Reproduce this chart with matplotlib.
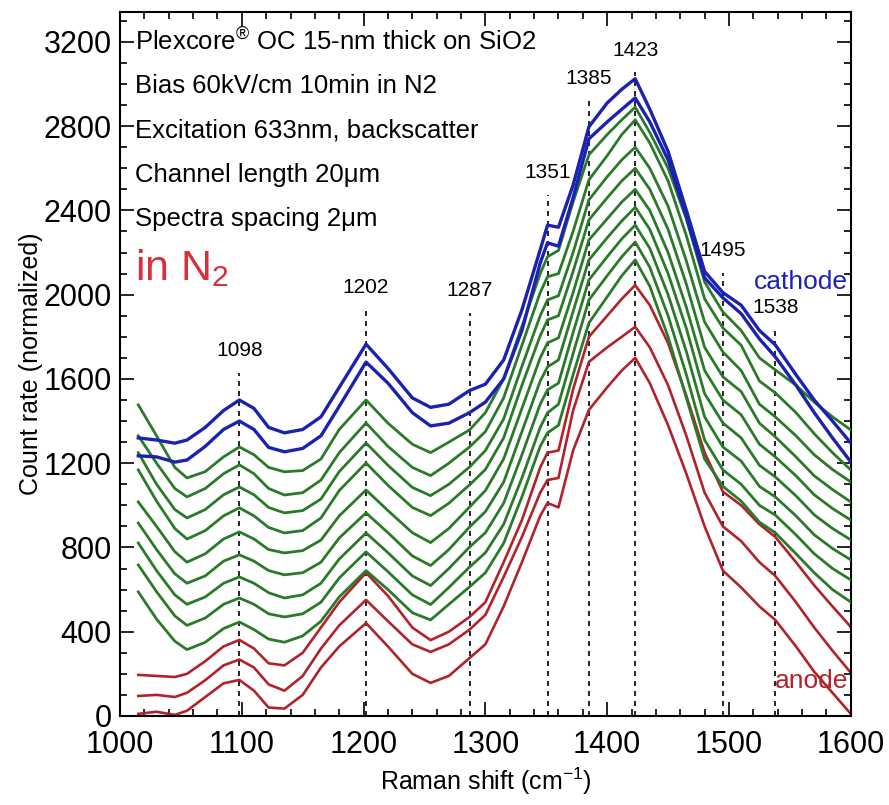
import numpy as np
import matplotlib.pyplot as plt
from matplotlib.ticker import MultipleLocator

plt.rcParams['font.family'] = ['Liberation Sans', 'DejaVu Sans']
plt.rcParams['mathtext.fontset'] = 'custom'
plt.rcParams['mathtext.rm'] = 'Liberation Sans'
plt.rcParams['mathtext.it'] = 'Liberation Sans:italic'

# Raman shift sample points (cm-1)
shift = [1015, 1030, 1045, 1055, 1070, 1085, 1098, 1110, 1122, 1135, 1150, 1165, 1180, 1202,
         1220, 1240, 1255, 1270, 1287, 1300, 1315, 1330, 1345, 1351, 1360, 1372, 1385, 1400,
         1412, 1423, 1435, 1450, 1465, 1480, 1495, 1510, 1525, 1538, 1555, 1570, 1585, 1600]

# cathode side (blue)
b1 = [1320, 1310, 1295, 1310, 1370, 1450, 1500, 1460, 1370, 1344, 1360, 1420, 1560, 1765,
      1650, 1510, 1465, 1480, 1545, 1575, 1690, 1928, 2213, 2330, 2320, 2520, 2797, 2910,
      2975, 3025, 2880, 2680, 2400, 2110, 2010, 1950, 1830, 1762, 1620, 1500, 1400, 1296]
b2 = [1235, 1230, 1205, 1215, 1280, 1360, 1400, 1360, 1275, 1254, 1270, 1330, 1470, 1680,
      1580, 1440, 1377, 1390, 1440, 1490, 1600, 1830, 2150, 2246, 2230, 2460, 2740, 2820,
      2880, 2934, 2820, 2640, 2370, 2080, 1985, 1910, 1790, 1705, 1570, 1440, 1320, 1206]

# middle of channel (green)
g1 = [1477, 1330, 1180, 1130, 1160, 1230, 1277, 1240, 1180, 1159, 1165, 1220, 1360, 1500,
      1390, 1290, 1250, 1300, 1358, 1440, 1600, 1850, 2100, 2180, 2210, 2440, 2664, 2760,
      2830, 2890, 2770, 2600, 2360, 2060, 1918, 1830, 1700, 1643, 1570, 1490, 1420, 1358]
g2 = [1330, 1200, 1080, 1040, 1080, 1150, 1192, 1150, 1080, 1049, 1060, 1120, 1250, 1391,
      1280, 1180, 1141, 1200, 1277, 1350, 1510, 1760, 2010, 2085, 2100, 2300, 2545, 2660,
      2760, 2830, 2720, 2540, 2280, 1980, 1842, 1760, 1590, 1534, 1440, 1340, 1250, 1168]
g3 = [1250, 1100, 980, 940, 980, 1050, 1087, 1050, 990, 964, 975, 1030, 1160, 1296,
      1190, 1085, 1046, 1100, 1182, 1260, 1410, 1660, 1900, 1975, 1995, 2200, 2450, 2560,
      2640, 2700, 2600, 2420, 2160, 1870, 1728, 1640, 1480, 1420, 1330, 1240, 1170, 1111]
g4 = [1168, 1020, 890, 840, 880, 950, 988, 950, 895, 869, 880, 940, 1070, 1201,
      1095, 990, 951, 1010, 1097, 1170, 1320, 1570, 1805, 1880, 1900, 2110, 2355, 2460,
      2540, 2600, 2500, 2310, 2050, 1750, 1610, 1540, 1390, 1325, 1230, 1140, 1075, 1016]
g5 = [1016, 900, 780, 730, 770, 840, 874, 840, 790, 774, 785, 835, 950, 1073,
      975, 870, 823, 890, 992, 1070, 1220, 1460, 1700, 1771, 1795, 2010, 2260, 2360,
      2440, 2500, 2400, 2200, 1940, 1640, 1500, 1430, 1290, 1230, 1140, 1050, 985, 930]
g6 = [916, 790, 675, 630, 665, 735, 765, 735, 690, 670, 680, 730, 845, 964,
      870, 760, 714, 790, 897, 970, 1110, 1350, 1590, 1657, 1690, 1920, 2165, 2270,
      2350, 2415, 2310, 2100, 1840, 1530, 1391, 1320, 1190, 1135, 1045, 955, 890, 836]
g7 = [821, 690, 575, 530, 565, 630, 660, 630, 585, 560, 575, 630, 745, 869,
      775, 665, 619, 700, 802, 870, 1010, 1240, 1480, 1548, 1580, 1820, 2070, 2180,
      2265, 2330, 2220, 2000, 1730, 1420, 1277, 1210, 1090, 1040, 950, 860, 795, 741]
g8 = [717, 590, 475, 430, 465, 530, 560, 530, 485, 470, 485, 540, 655, 779,
      685, 575, 529, 610, 707, 775, 910, 1130, 1370, 1439, 1480, 1720, 1975, 2090,
      2180, 2250, 2130, 1900, 1620, 1310, 1168, 1100, 1000, 954, 860, 770, 700, 646]
g9 = [589, 460, 355, 315, 350, 415, 446, 410, 365, 350, 380, 450, 565, 690,
      600, 490, 456, 530, 613, 680, 820, 1040, 1280, 1344, 1380, 1620, 1866, 1990,
      2090, 2165, 2040, 1800, 1510, 1220, 1090, 1020, 920, 870, 770, 680, 600, 541]

# anode side (red)
r1 = [195, 190, 185, 200, 260, 330, 361, 320, 250, 240, 300, 420, 540, 680,
      570, 420, 360, 400, 470, 540, 730, 930, 1180, 1250, 1260, 1550, 1800, 1900,
      1980, 2045, 1950, 1770, 1520, 1250, 1065, 1000, 910, 850, 730, 620, 520, 423]
r2 = [95, 100, 90, 110, 170, 240, 268, 230, 150, 120, 190, 320, 430, 551,
      450, 340, 304, 340, 410, 480, 660, 850, 1060, 1120, 1130, 1450, 1681, 1750,
      1800, 1847, 1750, 1570, 1330, 1060, 900, 830, 730, 665, 540, 420, 310, 205]
r3 = [10, 20, 5, 25, 90, 155, 171, 120, 40, 35, 100, 230, 330, 441,
      330, 200, 157, 190, 275, 340, 520, 730, 950, 1011, 990, 1260, 1453, 1560,
      1640, 1700, 1580, 1380, 1150, 900, 690, 610, 520, 456, 330, 210, 110, 10]

blue_curves = [b1, b2]
green_curves = [g1, g2, g3, g4, g5, g6, g7, g8, g9]
red_curves = [r1, r2, r3]

peaks = [1098, 1202, 1287, 1351, 1385, 1423, 1495, 1538]
peak_labels = ['1098', '1202', '1287', '1351', '1385', '1423', '1495', '1538']

info_lines = ['Plexcore$^{®}$ OC 15-nm thick on SiO2',
              'Bias 60kV/cm 10min in N2',
              'Excitation 633nm, backscatter',
              'Channel length 20\u03bcm',
              'Spectra spacing 2\u03bcm']

BLUE = '#1c22b0'
GREEN = '#2a7a2a'
RED = '#b2222c'

fig = plt.figure(figsize=(8.89, 8.05), dpi=100)
ax = fig.add_axes([0.135, 0.1106, 0.822, 0.874])

# peak markers: label height for each dashed line
label_y = [1690, 1990, 1975, 2535, 2980, 3115, 2165, 1895]
for p, lab, ly in zip(peaks, peak_labels, label_y):
    ax.plot([p, p], [0, ly - 60], ls=(0, (3, 3)), color='black', lw=1.2, zorder=1)
    ax.text(p, ly, lab, ha='center', va='bottom', fontsize=15)

for c in red_curves:
    ax.plot(shift, c, color=RED, lw=1.9, zorder=2)
for c in green_curves:
    ax.plot(shift, c, color=GREEN, lw=2.0, zorder=3)
for c in blue_curves:
    ax.plot(shift, c, color=BLUE, lw=2.4, zorder=4)

ax.set_xlim(1000, 1600)
ax.set_ylim(0, 3340)
ax.xaxis.set_major_locator(MultipleLocator(100))
ax.xaxis.set_minor_locator(MultipleLocator(20))
ax.yaxis.set_major_locator(MultipleLocator(400))
ax.yaxis.set_minor_locator(MultipleLocator(100))
ax.tick_params(which='both', direction='in', top=True, right=True, labelsize=22, width=1.2)
ax.tick_params(axis='x', which='major', pad=10)
ax.tick_params(axis='y', which='major', pad=6)
ax.tick_params(which='major', length=10)
ax.tick_params(which='minor', length=5)
for s in ax.spines.values():
    s.set_linewidth(1.5)

ax.set_xlabel('Raman shift (cm$^{-1}$)', fontsize=18, labelpad=4)
ax.set_ylabel('Count rate (normalized)', fontsize=18, labelpad=0)

for i, line in enumerate(info_lines):
    ax.text(0.020, 0.958 - i * 0.063, line, transform=ax.transAxes, fontsize=18.5,
            va='center', ha='left', zorder=6)
ax.text(0.020, 0.636, 'in N$_2$', transform=ax.transAxes, fontsize=31,
        color='#d8303a', va='center', ha='left', zorder=6)

ax.text(1598, 2060, 'cathode', color=BLUE, fontsize=19, ha='right', va='center', zorder=6)
ax.text(1598, 165, 'anode', color=RED, fontsize=19, ha='right', va='center', zorder=6)

fig.savefig('out.png', dpi=100)
